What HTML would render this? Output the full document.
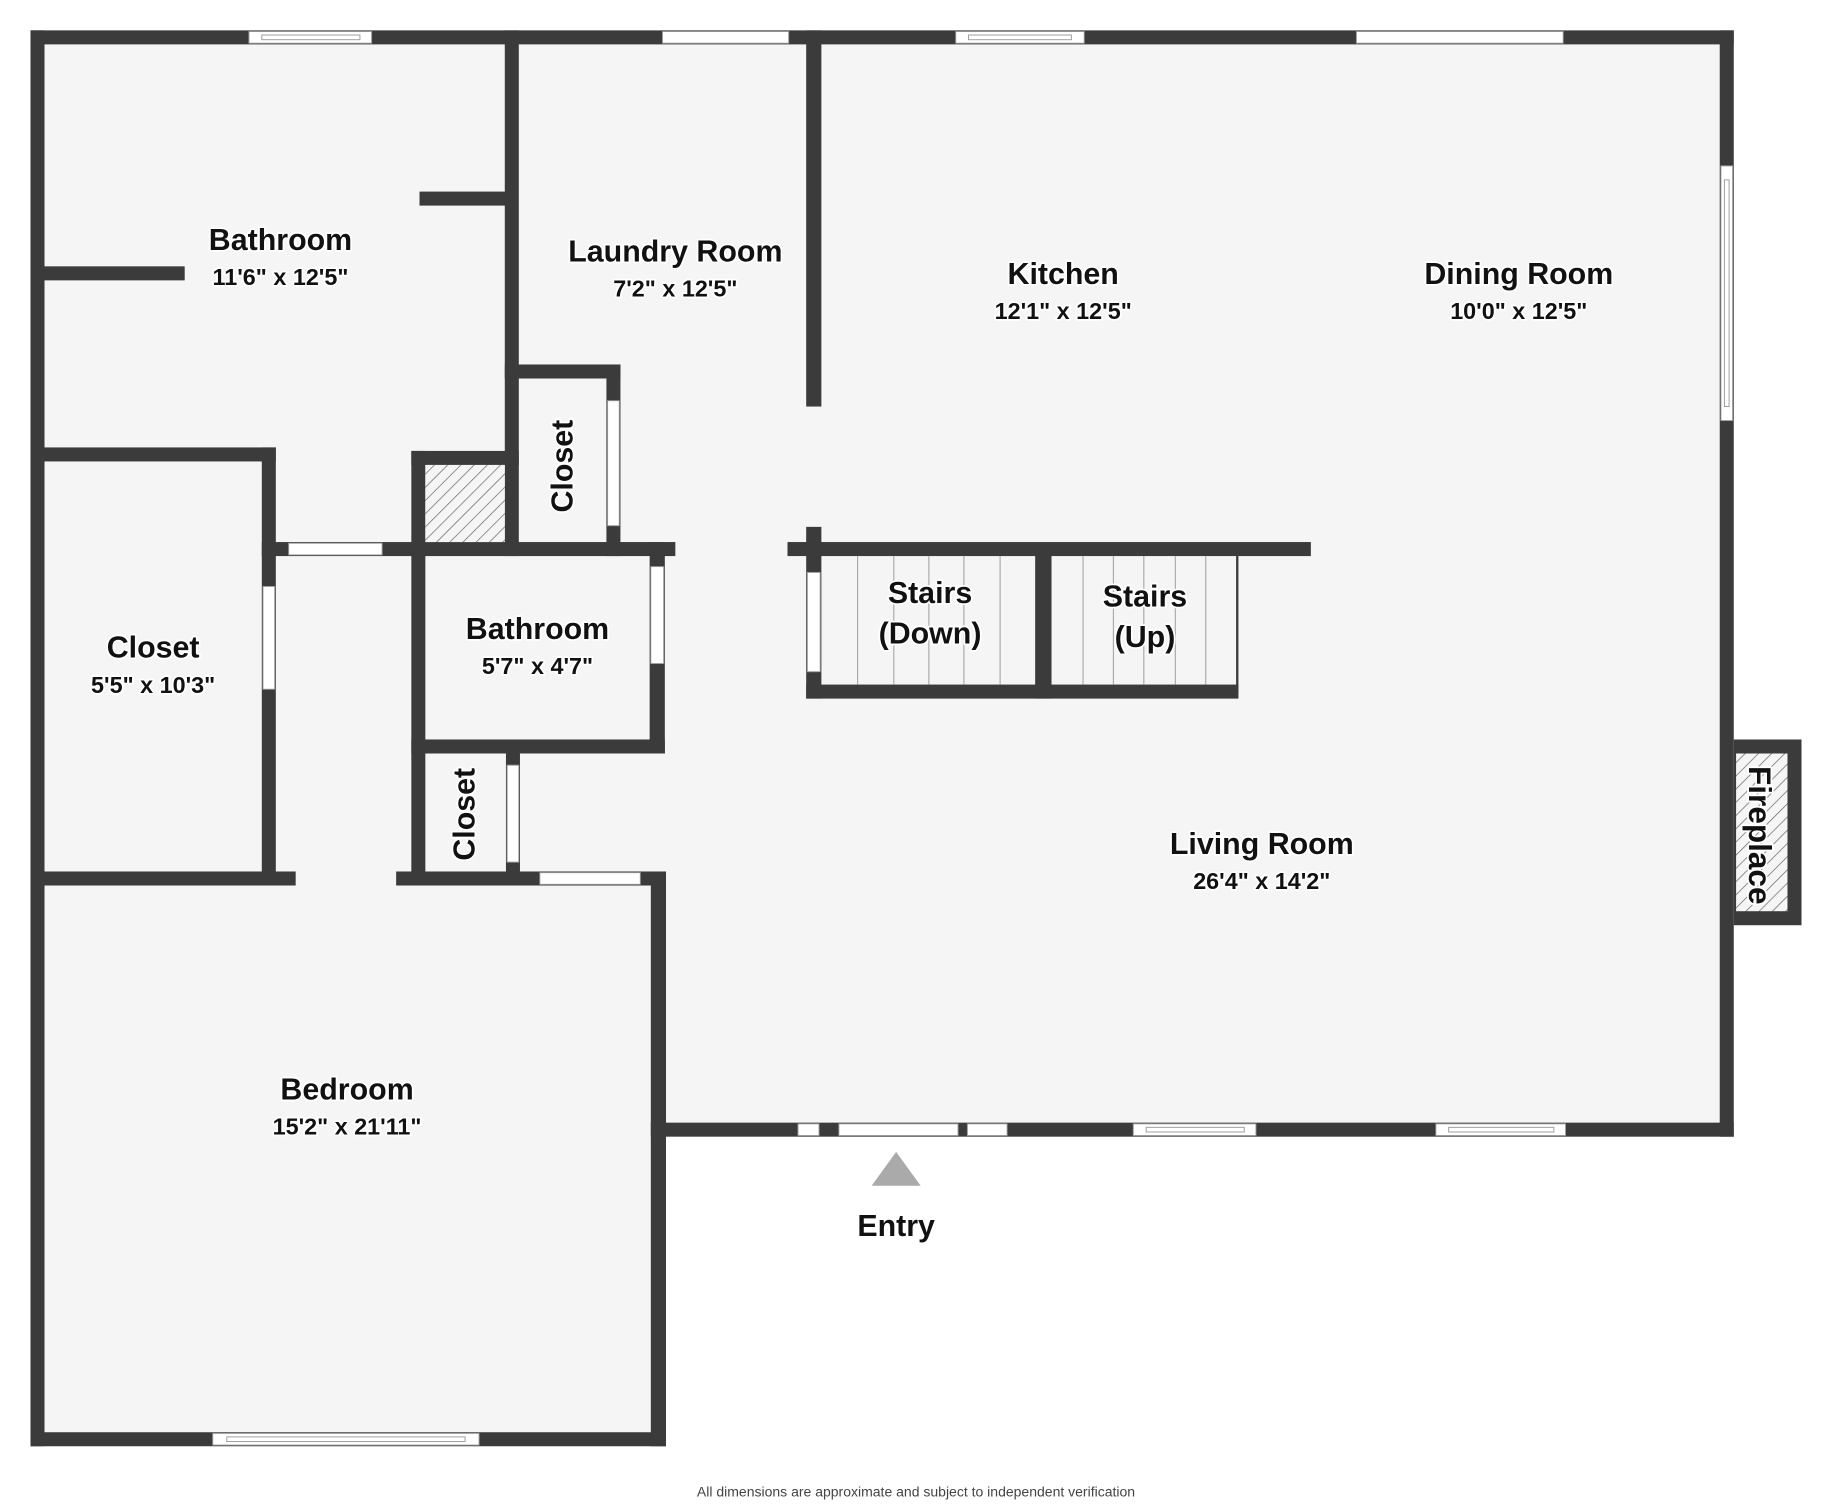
<!DOCTYPE html>
<html><head><meta charset="utf-8"><style>
html,body{margin:0;padding:0;background:#fff;}
svg{display:block;}
text{font-family:"Liberation Sans",sans-serif;font-weight:bold;fill:#111;text-anchor:middle;paint-order:stroke;stroke:#fff;stroke-width:3px;stroke-linejoin:round;}
</style></head><body>
<svg width="1832" height="1507" viewBox="0 0 1568 1290" xmlns="http://www.w3.org/2000/svg">
<defs>
<pattern id="h" width="8" height="8" patternUnits="userSpaceOnUse" patternTransform="rotate(45)">
<rect width="8" height="8" fill="#f5f5f5"/><line x1="0" y1="0" x2="0" y2="8" stroke="#666" stroke-width="1.2"/>
</pattern>
</defs>
<polygon points="26,26 1484,26 1484,973 570,973 570,1238 26,1238" fill="#f5f5f5"/>
<g fill="#3b3b3b">
<rect x="26" y="26" width="1458" height="12"/>
<rect x="26" y="26" width="12" height="1212"/>
<rect x="1472" y="26" width="12" height="947"/>
<rect x="557" y="961" width="927" height="12"/>
<rect x="26" y="1226" width="544" height="12"/>
<rect x="557" y="746" width="13" height="492"/>
<rect x="26" y="746" width="227" height="12"/>
<rect x="339" y="746" width="231" height="12"/>
<rect x="26" y="383" width="210" height="12"/>
<rect x="224" y="383" width="12" height="375"/>
<rect x="224" y="464" width="354" height="12"/>
<rect x="26" y="228" width="132" height="12"/>
<rect x="359" y="164" width="79" height="12"/>
<rect x="432" y="26" width="12" height="450"/>
<rect x="352" y="386" width="92" height="12"/>
<rect x="352" y="386" width="12" height="372"/>
<rect x="432" y="312" width="99" height="12"/>
<rect x="519" y="312" width="12" height="164"/>
<rect x="556" y="464" width="13" height="181"/>
<rect x="352" y="633" width="217" height="12"/>
<rect x="433" y="645" width="12" height="113"/>
<rect x="690" y="26" width="13" height="322"/>
<rect x="674" y="464" width="448" height="12"/>
<rect x="690" y="451" width="13" height="147"/>
<rect x="690" y="586" width="370" height="12"/>
<rect x="886" y="470" width="14" height="128"/>
<rect x="1484" y="633" width="58" height="159"/>
</g>
<rect x="364" y="398" width="68" height="66" fill="url(#h)"/>
<rect x="1486" y="645" width="44" height="135" fill="url(#h)"/>
<rect x="1058" y="476" width="2" height="118" fill="#3b3b3b"/>
<g stroke="#aaa" stroke-width="1">
<line x1="734" y1="476" x2="734" y2="586"/><line x1="765" y1="476" x2="765" y2="586"/><line x1="795" y1="476" x2="795" y2="586"/><line x1="825" y1="476" x2="825" y2="586"/><line x1="856" y1="476" x2="856" y2="586"/>
<line x1="927" y1="476" x2="927" y2="586"/><line x1="953" y1="476" x2="953" y2="586"/><line x1="979" y1="476" x2="979" y2="586"/><line x1="1006" y1="476" x2="1006" y2="586"/><line x1="1032" y1="476" x2="1032" y2="586"/>
</g>
<g fill="#fff" stroke="#999" stroke-width="0.8">
<rect x="213" y="27" width="105" height="10"/><rect x="224" y="30" width="84" height="4"/>
<rect x="567" y="27" width="108" height="10"/>
<rect x="818" y="27" width="110" height="10"/><rect x="829" y="30" width="88" height="4"/>
<rect x="1161" y="27" width="177" height="10"/>
<rect x="1473" y="142" width="10" height="218"/><rect x="1476" y="154" width="4" height="194"/>
<rect x="683" y="962" width="18" height="10"/><rect x="718" y="962" width="102" height="10"/><rect x="828" y="962" width="34" height="10"/>
<rect x="970" y="962" width="105" height="10"/><rect x="981" y="965" width="84" height="4"/>
<rect x="1229" y="962" width="111" height="10"/><rect x="1240" y="965" width="90" height="4"/>
<rect x="182" y="1227" width="228" height="10"/><rect x="194" y="1230" width="204" height="4"/>
<rect x="247" y="465" width="80" height="10"/>
<rect x="225" y="502" width="10" height="88"/>
<rect x="520" y="343" width="10" height="107"/>
<rect x="557" y="485" width="11" height="83"/>
<rect x="434" y="655" width="10" height="83"/>
<rect x="462" y="747" width="86" height="10"/>
<rect x="691" y="490" width="11" height="85"/>
</g>
<polygon points="767,986 746,1015 788,1015" fill="#aaa"/>
<g font-size="26">
<text x="240" y="214">Bathroom</text>
<text x="578" y="224">Laundry Room</text>
<text x="910" y="243">Kitchen</text>
<text x="1300" y="243">Dining Room</text>
<text x="131" y="563">Closet</text>
<text x="460" y="547">Bathroom</text>
<text x="796" y="516">Stairs</text>
<text x="796" y="551">(Down)</text>
<text x="980" y="519">Stairs</text>
<text x="980" y="554">(Up)</text>
<text x="1080" y="731">Living Room</text>
<text x="297" y="941">Bedroom</text>
<text x="767" y="1058">Entry</text>
<text transform="translate(490,399) rotate(-90)">Closet</text>
<text transform="translate(406,697) rotate(-90)">Closet</text>
<text transform="translate(1497,715) rotate(90)" font-size="27">Fireplace</text>
</g>
<g font-size="20">
<text x="240" y="244">11'6" x 12'5"</text>
<text x="578" y="254">7'2" x 12'5"</text>
<text x="910" y="273">12'1" x 12'5"</text>
<text x="1300" y="273">10'0" x 12'5"</text>
<text x="131" y="593">5'5" x 10'3"</text>
<text x="460" y="577">5'7" x 4'7"</text>
<text x="1080" y="761">26'4" x 14'2"</text>
<text x="297" y="971">15'2" x 21'11"</text>
</g>
<text x="784" y="1281" font-size="12" style="font-weight:normal;stroke:none;fill:#444">All dimensions are approximate and subject to independent verification</text>
</svg>
</body></html>
